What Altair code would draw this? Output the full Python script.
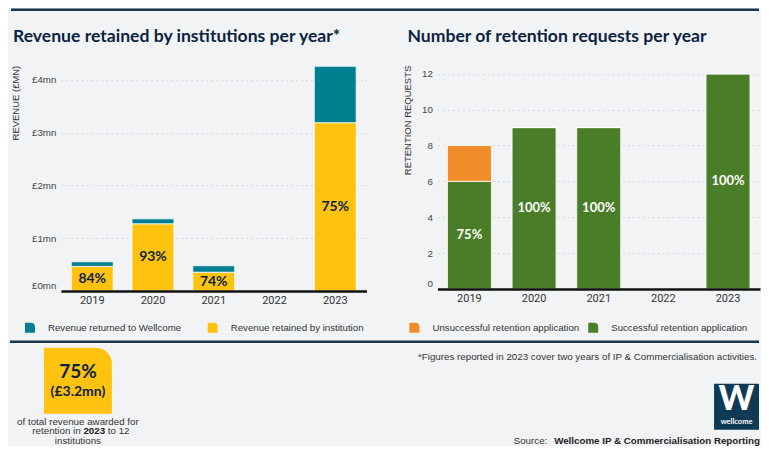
import altair as alt
import pandas as pd

# ---------------- data ----------------
years = ["2019", "2020", "2021", "2022", "2023"]
revenue_retained = [0.464, 1.273, 0.355, 0.0, 3.19]   # £mn retained by institution
revenue_returned = [0.089, 0.094, 0.122, 0.0, 1.07]   # £mn returned to Wellcome
retained_pct = ["84%", "93%", "74%", "", "75%"]

successful = [6, 9, 9, 0, 12]
unsuccessful = [2, 0, 0, 0, 0]
success_pct = ["75%", "100%", "100%", "", "100%"]

rev_series = ["Revenue returned to Wellcome", "Revenue retained by institution"]
req_series = ["Unsuccessful retention application", "Successful retention application"]

left_title = "Revenue retained by institutions per year*"
right_title = "Number of retention requests per year"
footnote = "*Figures reported in 2023 cover two years of IP & Commercialisation activities."

# ---------------- styles ----------------
BG = "#f2f3f5"
NAVY = "#0b2341"
LINE = "#1b3449"
TEAL = "#007f91"
YELLOW = "#ffc20e"
ORANGE = "#f28c28"
GREEN = "#4a7d28"
LOGO = "#0f3a56"
SANS = "Liberation Sans, Arial, sans-serif"
HEAD = "Lato, Inter, sans-serif"
SYMBOL = "M-1,-1H0.2Q1,-1,1,-0.2V1H-1Z"

rev_rows = []
for i, y in enumerate(years):
    rev_rows.append({"year": y, "series": rev_series[1], "value": revenue_retained[i], "ord": 0})
    rev_rows.append({"year": y, "series": rev_series[0], "value": revenue_returned[i], "ord": 1})
rev_df = pd.DataFrame(rev_rows)
rev_lab = pd.DataFrame({"year": years, "mid": [v / 2 for v in revenue_retained], "label": retained_pct})
rev_lab = rev_lab[rev_lab["label"] != ""]

req_rows = []
for i, y in enumerate(years):
    req_rows.append({"year": y, "series": req_series[1], "value": successful[i], "ord": 0})
    req_rows.append({"year": y, "series": req_series[0], "value": unsuccessful[i], "ord": 1})
req_df = pd.DataFrame(req_rows)
req_lab = pd.DataFrame({"year": years, "mid": [v / 2 for v in successful], "label": success_pct})
req_lab = req_lab[req_lab["label"] != ""]

one = pd.DataFrame({"d": [0]})


def xaxis():
    return alt.Axis(title=None, labelAngle=0, ticks=False, grid=False, domainColor="#111111",
                    domainWidth=2.5, labelFont="Roboto", labelFontSize=11, labelColor="#333333",
                    labelPadding=4, zindex=1)


def yaxis(values, title, title_x, label_expr):
    return alt.Axis(values=values, tickCount=20, labelExpr=label_expr, domain=False, ticks=False,
                    grid=True, gridDash=[2, 3], gridColor="#d3d7dc", labelFont=SANS,
                    labelFontSize=9.8, labelColor="#444444", labelPadding=5, labelFlush=True,
                    labelOverlap=False, title=title, titleFont=SANS, titleFontSize=9.5,
                    titleFontWeight="normal", titleColor="#333333", titleAngle=270,
                    titleX=title_x, titleY=0, titleAlign="right", titleBaseline="middle")


def legend(x, col_pad):
    return alt.Legend(title=None, orient="none", legendX=x, legendY=258, padding=0,
                      direction="horizontal", columns=2, columnPadding=col_pad,
                      symbolType=SYMBOL, symbolSize=100, symbolStrokeWidth=0,
                      labelFont=SANS, labelFontSize=9.7, labelColor="#333333",
                      labelOffset=13, labelLimit=400)


def txt(text, x, y, size=9.8, weight="normal", color="#333333", align="center", font=SANS):
    return alt.Chart(one).mark_text(text=text, fontSize=size, fontWeight=weight, color=color,
                                    align=align, baseline="middle", font=font).encode(
        x=alt.value(x), y=alt.value(y))


# ---------------- left chart ----------------
lx = alt.X("year:N", sort=years, scale=alt.Scale(domain=years, paddingInner=0.31, paddingOuter=0.17), axis=xaxis())
left_bars = alt.Chart(rev_df).mark_bar(stroke="white", strokeWidth=0.8).encode(
    x=lx,
    y=alt.Y("value:Q", stack="zero", scale=alt.Scale(domain=[0, 4.28], nice=False, zero=True),
            axis=yaxis([0, 1, 2, 3, 4], "REVENUE (£MN)", -45, "'£' + format(datum.value, 'd') + 'mn'")),
    color=alt.Color("series:N", scale=alt.Scale(domain=rev_series, range=[TEAL, YELLOW]),
                    legend=legend(-36, 26)),
    order=alt.Order("ord:Q"),
)
left_text = alt.Chart(rev_lab).mark_text(fontSize=14, fontWeight="bold", color=NAVY, font=HEAD,
                                         baseline="middle").encode(
    x=alt.X("year:N", sort=years), y=alt.Y("mid:Q"), text="label:N")

deco = [
    alt.Chart(one).mark_rect(fill=BG).encode(x=alt.value(-52), x2=alt.value(-51), y=alt.value(-57), y2=alt.value(-56)),
    alt.Chart(one).mark_rule(color=LINE, strokeWidth=2.5).encode(x=alt.value(-50), x2=alt.value(699), y=alt.value(-55.5)),
    alt.Chart(one).mark_rule(color=LINE, strokeWidth=2.5).encode(x=alt.value(-51), x2=alt.value(699), y=alt.value(277)),
    txt(left_title, -48, -28, size=17.6, weight="bold", color=NAVY, align="left", font=HEAD),
    alt.Chart(one).mark_rect(fill=YELLOW, cornerRadiusTopRight=16).encode(
        x=alt.value(-17), x2=alt.value(51), y=alt.value(283), y2=alt.value(349)),
    txt("75%", 17, 307, size=19, weight="bold", color=NAVY, font=HEAD),
    txt("(£3.2mn)", 17, 327, size=14, weight="bold", color=NAVY, font=HEAD),
    txt("of total revenue awarded for", 17, 357),
    txt("retention in", 19.75, 366.5, align="right"),
    txt("2023", 33.35, 366.5, weight="bold", color="#222222"),
    txt("to 12", 46.95, 366.5, align="left"),
    txt("institutions", 17, 376),
    txt(footnote, 697, 292, align="right"),
    alt.Chart(one).mark_rect(fill=LOGO).encode(x=alt.value(654), x2=alt.value(699), y=alt.value(319), y2=alt.value(365)),
    txt("W", 676.5, 335, size=34, weight=900, color="white", font=HEAD),
    txt("wellcome", 676.5, 357, size=7.5, weight="bold", color="white", font=HEAD),
    txt("Source:", 487, 376, align="right"),
    txt("Wellcome IP & Commercialisation Reporting", 700, 376, weight="bold", color="#222222", align="right"),
]

left = alt.layer(left_bars, left_text, *deco).properties(width=306, height=226)

# ---------------- right chart ----------------
rx = alt.X("year:N", sort=years, scale=alt.Scale(domain=years, paddingInner=0.32, paddingOuter=0.155), axis=xaxis())
right_bars = alt.Chart(req_df).mark_bar(stroke="white", strokeWidth=0.8).encode(
    x=rx,
    y=alt.Y("value:Q", stack="zero", scale=alt.Scale(domain=[0, 12.48], nice=False, zero=True),
            axis=yaxis([0, 2, 4, 6, 8, 10, 12], "RETENTION REQUESTS", -30, "format(datum.value, 'd')")),
    color=alt.Color("series:N", scale=alt.Scale(domain=req_series, range=[ORANGE, GREEN]),
                    legend=legend(-28, 8)),
    order=alt.Order("ord:Q"),
)
right_text = alt.Chart(req_lab).mark_text(fontSize=13, fontWeight="bold", color="white", font=HEAD,
                                          baseline="middle").encode(
    x=alt.X("year:N", sort=years), y=alt.Y("mid:Q"), text="label:N")
right_deco = txt(right_title, -30, -28, size=17.6, weight="bold", color=NAVY, align="left", font=HEAD)

right = alt.layer(right_bars, right_text, right_deco).properties(width=323, height=224)

chart = alt.hconcat(left, right, spacing=71, bounds="flush").resolve_scale(
    color="independent", x="independent", y="independent").resolve_legend(color="independent").properties(
    padding=0, background=BG).configure_view(strokeWidth=0)

chart.save("out.html", embed_options={"renderer": "svg", "actions": False})
